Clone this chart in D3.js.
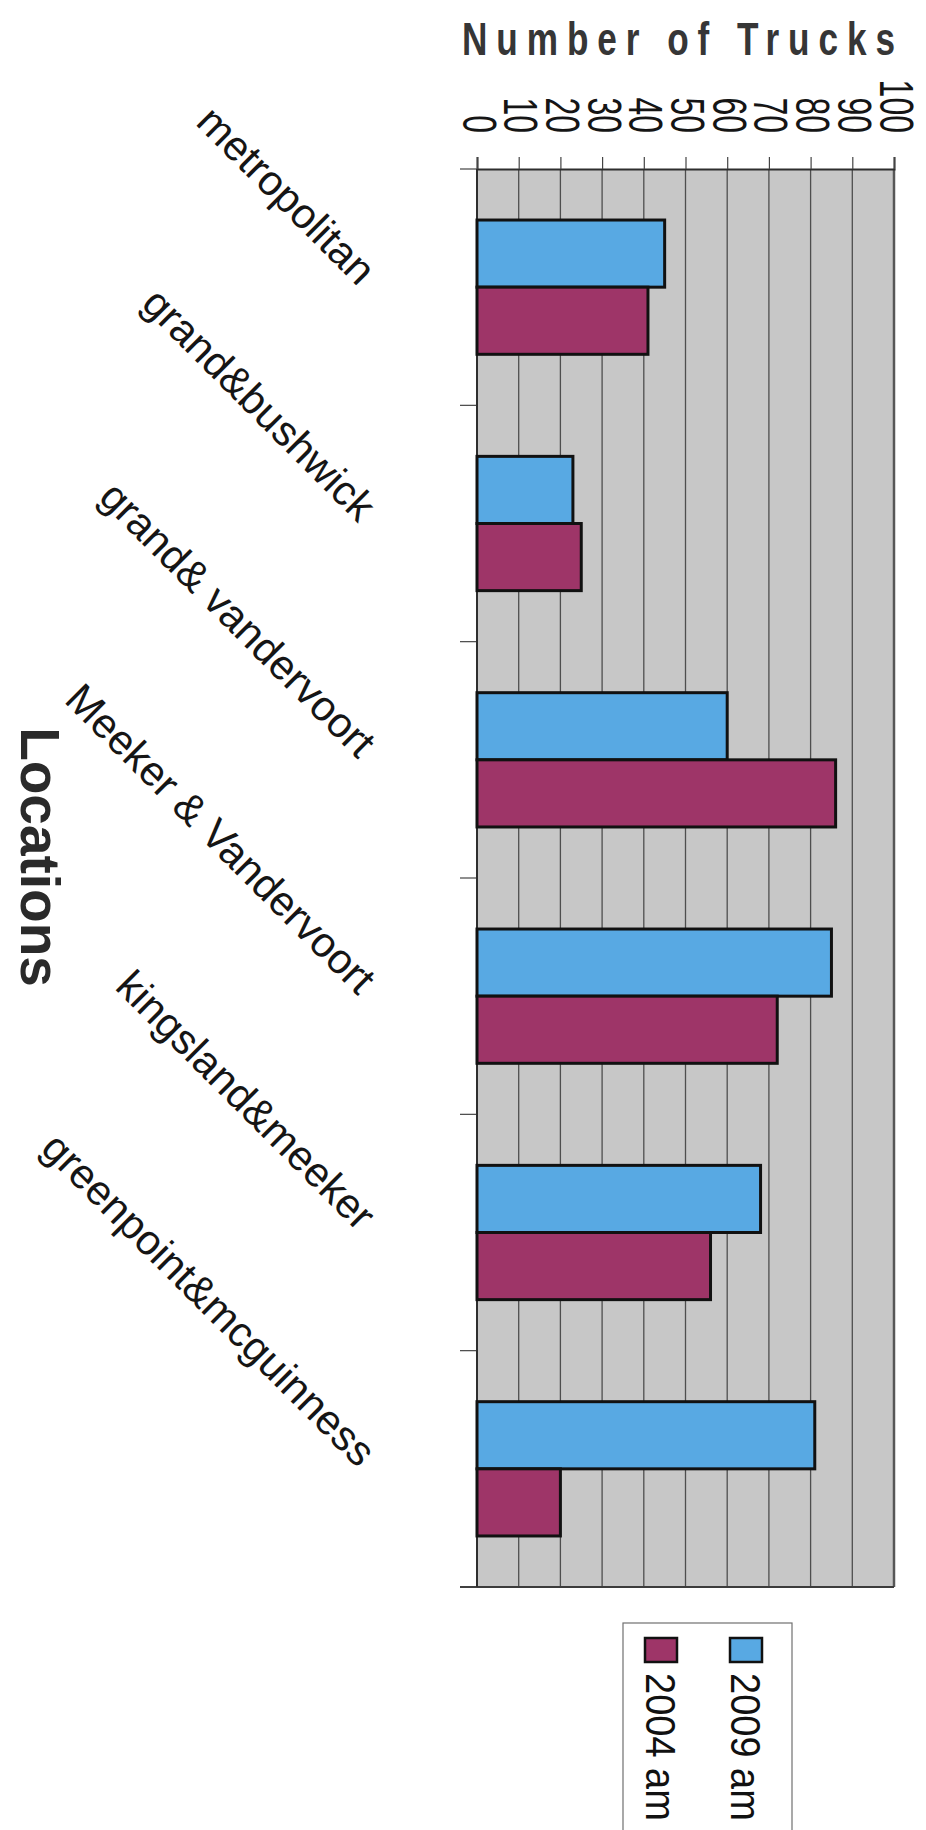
<!DOCTYPE html>
<html>
<head>
<meta charset="utf-8">
<script src="https://cdn.jsdelivr.net/npm/d3@7"></script>
<style>
  html, body { margin: 0; padding: 0; background: #ffffff; }
  svg { display: block; }
  text { font-family: "Liberation Sans", Arial, "Noto Sans", sans-serif; }
</style>
</head>
<body>
<svg id="chart" width="926" height="1830"></svg>
<script>
// Truck counts per intersection, morning counts
const locations = [
  "metropolitan",
  "grand&bushwick",
  "grand& vandervoort",
  "Meeker & Vandervoort",
  "kingsland&meeker",
  "greenpoint&mcguinness"
];
const trucks2009 = [45, 23, 60, 85, 68, 81];
const trucks2004 = [41, 25, 86, 72, 56, 20];
const seriesNames = ["2009 am", "2004 am"];
const seriesColors = ["#58a9e3", "#9e3568"];
const valueTicks = [0, 10, 20, 30, 40, 50, 60, 70, 80, 90, 100];
const valueTitle = "Number of Trucks";
const categoryTitle = "Locations";

const rows = locations.map((loc, i) => ({
  loc,
  values: [
    { series: seriesNames[0], value: trucks2009[i] },
    { series: seriesNames[1], value: trucks2004[i] }
  ]
}));

const svg = d3.select("#chart");

const plot = { left: 477, right: 894, top: 169, bottom: 1587 };

const x = d3.scaleLinear().domain([0, 100]).range([plot.left, plot.right]);
const y = d3.scaleBand().domain(locations).range([plot.top, plot.bottom]).padding(0);
const ySub = d3.scaleBand().domain(seriesNames).range([0, y.bandwidth()])
  .paddingInner(0).paddingOuter(0.76);
const color = d3.scaleOrdinal().domain(seriesNames).range(seriesColors);

// plot background
svg.append("rect")
  .attr("x", plot.left).attr("y", plot.top)
  .attr("width", plot.right - plot.left).attr("height", plot.bottom - plot.top)
  .attr("fill", "#c7c7c7");

// vertical gridlines
svg.append("g")
  .selectAll("line")
  .data(valueTicks.filter(d => d > 0 && d < 100))
  .join("line")
  .attr("x1", d => x(d)).attr("x2", d => x(d))
  .attr("y1", plot.top).attr("y2", plot.bottom)
  .attr("stroke", "#4e4e4e").attr("stroke-width", 1.3);

// plot frame
svg.append("line").attr("x1", plot.right).attr("x2", plot.right)
  .attr("y1", plot.top).attr("y2", plot.bottom)
  .attr("stroke", "#575757").attr("stroke-width", 2.5);
svg.append("line").attr("x1", plot.left - 17).attr("x2", plot.right)
  .attr("y1", plot.bottom).attr("y2", plot.bottom)
  .attr("stroke", "#3c3c3c").attr("stroke-width", 2);

// value axis along the top
const xAxis = d3.axisTop(x).tickValues(valueTicks).tickSize(12).tickFormat("");
const gx = svg.append("g").attr("transform", `translate(0,${plot.top})`).call(xAxis);
gx.select(".domain").attr("stroke", "#2e2e2e").attr("stroke-width", 2);
gx.selectAll(".tick line").attr("stroke", "#444").attr("stroke-width", 1.2);

// value tick labels, turned a quarter clockwise
svg.append("g")
  .selectAll("text")
  .data(valueTicks)
  .join("text")
  .attr("transform", d => `translate(${x(d) - 14.5},133) rotate(90) scale(1,1.5)`)
  .attr("text-anchor", "end")
  .attr("font-size", 32)
  .attr("fill", "#151515")
  .text(d => d);

// category axis along the left
const yTicks = locations.map(l => y(l)).concat([plot.bottom]);
svg.append("g")
  .selectAll("line")
  .data(yTicks)
  .join("line")
  .attr("x1", plot.left - 17).attr("x2", plot.left)
  .attr("y1", d => d).attr("y2", d => d)
  .attr("stroke", "#444").attr("stroke-width", 1.2);
svg.append("line").attr("x1", plot.left).attr("x2", plot.left)
  .attr("y1", plot.top).attr("y2", plot.bottom)
  .attr("stroke", "#2e2e2e").attr("stroke-width", 2);

// bars
const groups = svg.append("g")
  .selectAll("g")
  .data(rows)
  .join("g")
  .attr("transform", d => `translate(0,${y(d.loc)})`);

groups.selectAll("rect")
  .data(d => d.values)
  .join("rect")
  .attr("x", x(0))
  .attr("y", d => ySub(d.series))
  .attr("width", d => x(d.value) - x(0))
  .attr("height", ySub.bandwidth())
  .attr("fill", d => color(d.series))
  .attr("stroke", "#111")
  .attr("stroke-width", 3);

// category labels at 45 degrees
svg.append("g")
  .selectAll("text")
  .data(locations)
  .join("text")
  .attr("transform", d => `translate(358,${y(d) + y.bandwidth() / 2}) rotate(45)`)
  .attr("text-anchor", "end")
  .attr("font-size", 42)
  .attr("fill", "#151515")
  .text(d => d);

// value axis title
svg.append("text")
  .attr("transform", "translate(462,55) scale(0.8,1.03)")
  .attr("font-size", 44)
  .attr("font-weight", "bold")
  .attr("fill", "#363636")
  .attr("textLength", 433 / 0.8)
  .attr("lengthAdjust", "spacing")
  .text(valueTitle);

// category axis title
svg.append("text")
  .attr("transform", "translate(21,857) rotate(90)")
  .attr("text-anchor", "middle")
  .attr("font-size", 55)
  .attr("font-weight", "bold")
  .attr("fill", "#2a2a2a")
  .text(categoryTitle);

// legend
const legend = svg.append("g");
legend.append("rect")
  .attr("x", 623).attr("y", 1623)
  .attr("width", 169).attr("height", 240)
  .attr("fill", "#fff").attr("stroke", "#707070").attr("stroke-width", 1.2);

const legendX = d3.scalePoint().domain(seriesNames).range([746, 661]);
const items = legend.selectAll("g.item")
  .data(seriesNames)
  .join("g")
  .attr("class", "item");
items.append("rect")
  .attr("x", d => legendX(d) - 16).attr("y", 1638)
  .attr("width", 32).attr("height", 24)
  .attr("fill", d => color(d))
  .attr("stroke", "#111").attr("stroke-width", 2.5);
items.append("text")
  .attr("transform", d => `translate(${legendX(d) - 15},1673) rotate(90) scale(1,1.1)`)
  .attr("font-size", 38)
  .attr("fill", "#111")
  .text(d => d);
</script>
</body>
</html>
